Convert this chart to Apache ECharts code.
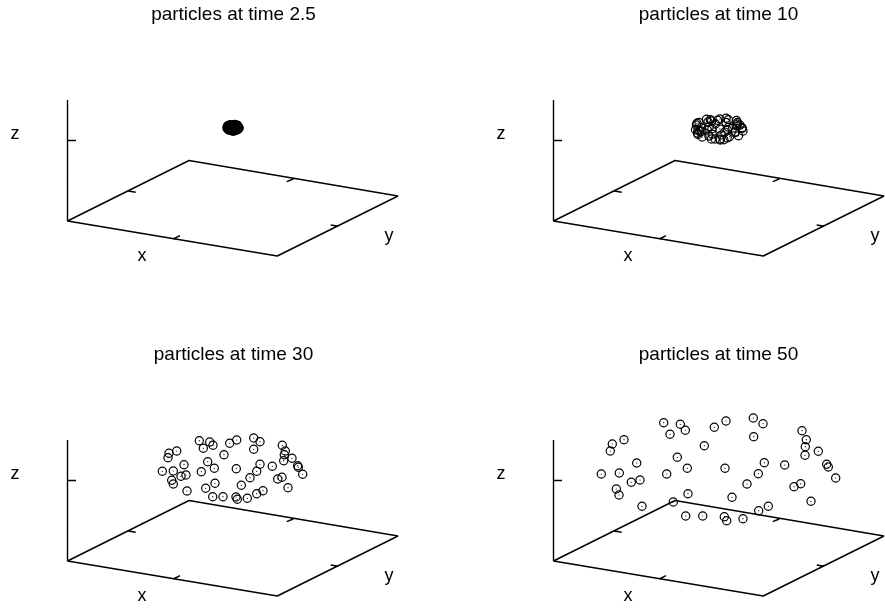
<!DOCTYPE html>
<html><head><meta charset="utf-8">
<style>html,body{margin:0;padding:0;background:#fff}#c{width:885px;height:610px}</style>
<script src="https://cdn.jsdelivr.net/npm/echarts@6/dist/echarts.min.js"></script>
</head><body><div id="c"></div>
<script>
// All coordinates are projected 3D positions, measured from each panel's axis origin.
const titles = ['particles at time 2.5','particles at time 10','particles at time 30','particles at time 50'];
const axisNames = ['x','y','z'];
const frame = [[0,121],[0,0],[121.5,60.5],[330.5,25],[209.8,-35],[0,0]];
const tickMarks = [
  [[0,80.5],[8.5,80.5]],
  [[105.8,-18],[112.5,-14.7]],
  [[60.8,30],[68.2,28.7]],
  [[219.2,39.3],[225.8,42]],
  [[263.2,-4],[270.8,-5.3]]
];
const particles25 = [[162.6,96.2],[163.5,96.1],[163.8,95.7],[163,95.4],[165.3,95.9],[165.8,96.3],[167.3,96.5],[167.9,96.1],[167.3,95.3],[164.8,94.8],[169.8,95.9],[170.1,95.3],[170,94.8],[169.9,94.2],[170.6,94.5],[171.2,93.7],[171.2,93.5],[171.6,92.7],[169,93.6],[167.9,93.8],[167.5,93.1],[167,92.4],[165.8,93.3],[163.3,94.1],[163.8,93.4],[162.8,93],[160.6,95.3],[160,95],[159.9,94.5],[161.3,93.8],[159.4,93.1],[160.4,93.1],[161.1,92.5],[161.5,92.6],[160.2,92.1],[160.4,91.7],[161.6,90.9],[164,91.7],[163.2,91.2],[166.3,91.5],[169.4,92.2],[169.5,92.4],[170.3,91.3],[168.1,91],[167.6,90.6],[163.9,90.3],[164.7,90.3],[165.8,90.2],[165.9,90],[166.8,90.1]];
const particles10 = [[153,101.7],[156.8,101.2],[158,100],[154.5,99],[164,100.8],[166.5,102],[172.6,102.7],[174.9,101.3],[172.6,98.6],[162,97],[183,100.5],[184,98.5],[183.6,97],[183.4,95],[186.4,95.9],[188.5,93.2],[188.7,92.6],[189.5,90],[179.3,93],[174.9,93.7],[173.7,91.2],[171.3,88.9],[166.4,92.1],[156,94.6],[158.4,92.2],[153.8,91],[145.5,98.5],[143.5,97.7],[143,96],[147.5,93.5],[142,91.2],[144.5,91.3],[146.5,89.4],[148.3,89.8],[144,87.9],[144.5,86.6],[148.6,84],[158.7,86.8],[155.4,85],[168.2,86.1],[181.3,88.4],[182,89],[185,85.3],[176,84.2],[173.7,83.1],[158,82],[161.6,82],[166.3,81.9],[166.7,81],[170.3,81.3]];
const particles30 = [[131.8,120.3],[142.2,119],[145.5,115.7],[135.8,112.7],[162.2,117.7],[169.2,121],[186.2,123],[192.5,119.3],[186.2,111.7],[156.5,106.3],[214.8,115.7],[217.8,110],[216.8,106.3],[216.2,100.3],[224.5,102.7],[230.2,95.3],[230.8,93.7],[235.2,86.7],[204.8,94.7],[192.5,96.7],[189.2,89.7],[182.5,83.3],[168.8,92.3],[140.2,99.3],[146.8,92.7],[133.8,89.3],[109.2,110],[101.5,107.7],[100.5,103.3],[116.5,96.3],[94.8,89.7],[105.8,90],[113.5,84.7],[118.5,86],[104.2,80.7],[105.8,77],[119.5,70],[147.5,77.7],[138.2,72.7],[173.8,75.7],[210.2,82],[214.5,83.7],[220.5,73.3],[195.5,70.3],[189.2,67.3],[145.2,64.3],[155.5,64.3],[168.5,64],[169.8,61.7],[179.8,62.7]];
const particles50 = [[110.2,138.3],[126.8,136.7],[131.8,130.7],[116.5,126.7],[160.8,133.7],[150.8,115.3],[70.5,121.3],[58.8,117],[56.8,110],[123.8,103.7],[133.8,92.7],[83.2,98],[47.8,87],[65.8,88],[113.2,87],[77.8,78.7],[86.5,81],[62.8,72],[65.5,66],[88.5,54.7],[134.5,67.3],[119.8,59],[132.2,45],[149.2,45],[172.5,140],[199.8,143],[209.5,137.3],[200.2,124.3],[248.5,130.3],[252.8,121.3],[251.8,114.3],[251.5,105.7],[264.8,109.7],[171.5,92.7],[210.8,98.3],[204.8,87.3],[231.2,96],[273.2,96.7],[274.8,94],[282.2,83],[193.5,77],[240.5,74.3],[247.2,77.3],[178.5,63.7],[257.5,59.7],[214.8,54.7],[205.2,50.3],[170.8,44.3],[173.2,40.3],[189.5,42.3]];

const panels = [
  {ox:67.5, oy:221, data:particles25, title:titles[0], tx:233.5, ty:5},
  {ox:553.5,oy:221, data:particles10, title:titles[1], tx:718.5, ty:5},
  {ox:67.5, oy:561, data:particles30, title:titles[2], tx:233.5, ty:345},
  {ox:553.5,oy:561, data:particles50, title:titles[3], tx:718.5, ty:345}
];
const lineData = [...frame, ['-','-']];
tickMarks.forEach(t => { lineData.push(t[0], t[1], ['-','-']); });

const font = 'Liberation Sans';
const grid=[], xAxis=[], yAxis=[], series=[], title=[];
panels.forEach((p,i)=>{
  grid.push({left:p.ox-60, top:p.oy-160, width:400, height:220, containLabel:false, outerBoundsMode:'none'});
  xAxis.push({gridIndex:i, type:'value', min:-60, max:340, show:false});
  yAxis.push({gridIndex:i, type:'value', min:-60, max:160, show:false});
  series.push({type:'line', xAxisIndex:i, yAxisIndex:i, data:lineData, symbol:'none', silent:true,
    connectNulls:false, clip:false, lineStyle:{color:'#000', width:1.4}, animation:false});
  series.push({type:'scatter', xAxisIndex:i, yAxisIndex:i, data:p.data, symbol:'circle', symbolSize:8.2, silent:true, clip:false,
    itemStyle:{color:'rgba(0,0,0,0)', borderColor:'#000', borderWidth:1.2, opacity:1}, animation:false});
  series.push({type:'scatter', xAxisIndex:i, yAxisIndex:i, data:p.data, symbol:'circle', symbolSize:1.2, silent:true, clip:false,
    itemStyle:{color:'#000', opacity:1}, animation:false});
  const ts = {fontFamily:font, fontSize:19, fontWeight:'normal', color:'#000'};
  title.push({text:p.title, left:p.tx, top:p.ty, textAlign:'center', padding:0, textStyle:ts});
  title.push({text:axisNames[0], left:p.ox+74.5, top:p.oy+26.5, textAlign:'center', padding:0, textStyle:{...ts,fontSize:18}});
  title.push({text:axisNames[1], left:p.ox+321.5, top:p.oy+6.5, textAlign:'center', padding:0, textStyle:{...ts,fontSize:18}});
  title.push({text:axisNames[2], left:p.ox-52.5, top:p.oy-95.5, textAlign:'center', padding:0, textStyle:{...ts,fontSize:18}});
});
const chart = echarts.init(document.getElementById('c'), null, {renderer:'canvas'});
chart.setOption({backgroundColor:'#fff', animation:false, title, grid, xAxis, yAxis, series});
</script></body></html>
